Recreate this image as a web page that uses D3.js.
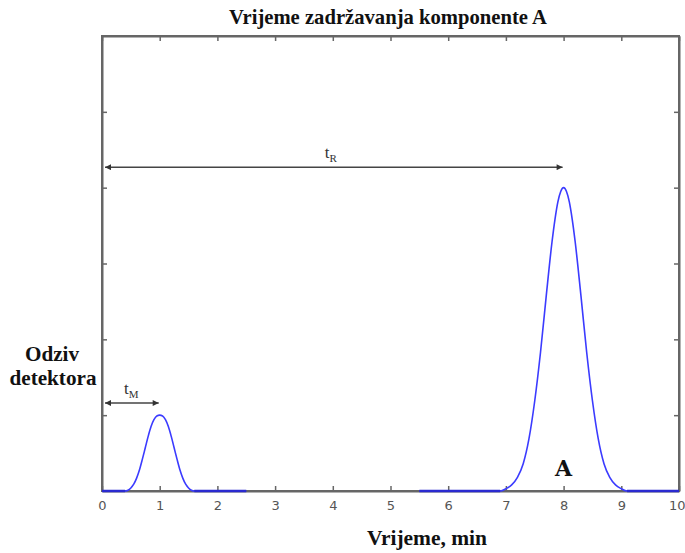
<!DOCTYPE html>
<html><head><meta charset="utf-8">
<script src="https://cdn.jsdelivr.net/npm/d3@7"></script>
<style>body{margin:0;background:#fff}svg{display:block}</style>
</head><body>
<script>
// Data
const peakMX = [0, 0.4, 0.45, 0.5, 0.55, 0.6, 0.65, 0.7, 0.75, 0.8, 0.85, 0.9, 0.95, 1.0, 1.05, 1.1, 1.15, 1.2, 1.25, 1.3, 1.35, 1.4, 1.45, 1.5, 1.55, 1.6, 2.5];
const peakMY = [0, 0, 0.01, 0.04, 0.09, 0.17, 0.28, 0.42, 0.57, 0.72, 0.85, 0.94, 0.99, 1.0, 0.99, 0.94, 0.85, 0.72, 0.57, 0.42, 0.28, 0.17, 0.09, 0.04, 0.01, 0, 0];
const peakAX = [5.5, 6.9, 7.0, 7.1, 7.2, 7.3, 7.4, 7.5, 7.6, 7.7, 7.8, 7.85, 7.9, 7.95, 8.0, 8.05, 8.1, 8.15, 8.2, 8.3, 8.4, 8.5, 8.6, 8.7, 8.8, 8.9, 9.0, 9.1, 10];
const peakAY = [0, 0, 0.03, 0.08, 0.18, 0.36, 0.69, 1.19, 1.83, 2.58, 3.29, 3.58, 3.81, 3.95, 4.0, 3.95, 3.81, 3.58, 3.29, 2.58, 1.83, 1.19, 0.69, 0.36, 0.18, 0.08, 0.03, 0, 0];
const xTicks = [0,1,2,3,4,5,6,7,8,9,10];
const yTicks = [1,2,3,4,5];
const tR = {from: 0, to: 8, level: 4.27, labelX: 3.86};
const tM = {from: 0, to: 1, level: 1.16, labelX: 0.38};

const W = 685, H = 553;
const m = {left: 102, top: 36, right: 6, bottom: 62};
const svg = d3.select("body").append("svg").attr("width", W).attr("height", H);
const x = d3.scaleLinear().domain([0, 10]).range([m.left, W - m.right]);
const y = d3.scaleLinear().domain([0, 6]).range([H - m.bottom, m.top]);

const axisColor = "#666";
const g = svg.append("g");

g.append("rect").attr("x", x(0)).attr("y", y(6)).attr("width", x(10) - x(0)).attr("height", y(0) - y(6))
  .attr("fill", "none").attr("stroke", axisColor).attr("stroke-width", 2);

const xb = g.append("g").attr("transform", `translate(0,${y(0)})`)
  .call(d3.axisBottom(x).tickValues(xTicks).tickSizeInner(-5).tickSizeOuter(0).tickPadding(10));
const xt = g.append("g").attr("transform", `translate(0,${y(6)})`)
  .call(d3.axisTop(x).tickValues(xTicks).tickSizeInner(-5).tickSizeOuter(0).tickFormat(""));
const yl = g.append("g").attr("transform", `translate(${x(0)},0)`)
  .call(d3.axisLeft(y).tickValues(yTicks).tickSizeInner(-5).tickSizeOuter(0).tickFormat(""));
const yr = g.append("g").attr("transform", `translate(${x(10)},0)`)
  .call(d3.axisRight(y).tickValues(yTicks).tickSizeInner(-5).tickSizeOuter(0).tickFormat(""));
[xb, xt, yl, yr].forEach(a => {
  a.select(".domain").attr("stroke", axisColor).attr("stroke-width", 2);
  a.selectAll(".tick line").attr("stroke", axisColor).attr("stroke-width", 1.5);
});
xb.selectAll(".tick text").attr("fill", "#555").attr("font-family", "DejaVu Sans").attr("font-size", 13).attr("text-anchor", "middle");
xb.selectAll(".tick").filter(d => d === 10).select("text").attr("text-anchor", "end").attr("dx", 6);

const line = d3.line().x(d => x(d[0])).y(d => y(d[1])).curve(d3.curveMonotoneX);
const mData = peakMX.map((v, i) => [v, peakMY[i]]);
const aData = peakAX.map((v, i) => [v, peakAY[i]]);
[mData, aData].forEach(d => {
  g.append("path").datum(d).attr("d", line).attr("fill", "none")
    .attr("stroke", "#3b3bff").attr("stroke-width", 1.6).attr("stroke-linejoin", "round");
});
[[0, 0.4], [1.6, 2.5], [5.5, 6.9], [9.1, 10]].forEach(s => {
  g.append("line").attr("x1", x(s[0])).attr("x2", x(s[1])).attr("y1", y(0)).attr("y2", y(0))
    .attr("stroke", "#2a2ad0").attr("stroke-width", 2.5);
});

const defs = svg.append("defs");
defs.append("marker").attr("id", "ah").attr("viewBox", "0 0 10 10").attr("refX", 10).attr("refY", 5)
  .attr("markerWidth", 10).attr("markerHeight", 6).attr("markerUnits", "userSpaceOnUse").attr("orient", "auto-start-reverse")
  .append("path").attr("d", "M0,0L10,5L0,10z").attr("fill", "#333");

function arrow(a) {
  g.append("line").attr("x1", x(a.from) + 3).attr("x2", x(a.to) - 1).attr("y1", y(a.level)).attr("y2", y(a.level))
    .attr("stroke", "#444").attr("stroke-width", 1.5)
    .attr("marker-start", "url(#ah)").attr("marker-end", "url(#ah)");
}
arrow(tR); arrow(tM);

function tlabel(a, sub) {
  const t = g.append("text").attr("x", x(a.labelX)).attr("y", y(a.level) - 9)
    .attr("font-family", "Liberation Serif").attr("font-size", 17).attr("fill", "#333");
  t.append("tspan").text("t");
  t.append("tspan").attr("font-size", 11).attr("dy", 4).text(sub);
}
tlabel(tR, "R");
tlabel(tM, "M");

g.append("text").attr("x", x(8)).attr("y", y(0) - 15).attr("text-anchor", "middle")
  .attr("font-family", "DejaVu Serif").attr("font-weight", "bold").attr("font-size", 22).attr("fill", "#111").text("A");

function fit(sel, target) {
  const w = sel.node().getComputedTextLength();
  const fs = parseFloat(sel.attr("font-size"));
  sel.attr("font-size", fs * target / w);
  return fs * target / w;
}
const title = svg.append("text").attr("x", 388).attr("y", 24).attr("text-anchor", "middle")
  .attr("font-family", "Liberation Serif").attr("font-weight", "bold").attr("font-size", 20).attr("fill", "#111")
  .text("Vrijeme zadržavanja komponente A");
fit(title, 318);
const xlab = svg.append("text").attr("x", 427).attr("y", 545).attr("text-anchor", "middle")
  .attr("font-family", "Liberation Serif").attr("font-weight", "bold").attr("font-size", 20).attr("fill", "#111")
  .text("Vrijeme, min");
fit(xlab, 120);
const y2 = svg.append("text").attr("x", 53).attr("y", 385).attr("text-anchor", "middle")
  .attr("font-family", "Liberation Serif").attr("font-weight", "bold").attr("font-size", 20).attr("fill", "#111").text("detektora");
const yfs = fit(y2, 87);
svg.append("text").attr("x", 52).attr("y", 361).attr("text-anchor", "middle")
  .attr("font-family", "Liberation Serif").attr("font-weight", "bold").attr("font-size", yfs).attr("fill", "#111").text("Odziv");
</script>
</body></html>
